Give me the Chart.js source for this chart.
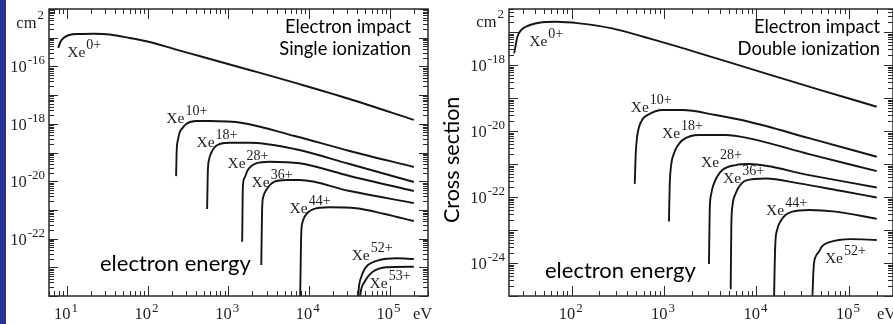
<!DOCTYPE html>
<html>
<head>
<meta charset="utf-8">
<script src="https://cdn.jsdelivr.net/npm/chart.js@4.4.1/dist/chart.umd.min.js"></script>
<style>
html, body { margin: 0; padding: 0; background: #fff; width: 893px; height: 324px; overflow: hidden; position: relative; }
canvas { position: absolute; top: 0; }
#strip { position: absolute; left: 0; top: 0; width: 6px; height: 324px; background: #283593; }
#ylab { position: absolute; left: 387px; top: 148px; width: 126px; height: 24px; line-height: 24px; text-align: center;
        font: 21.5px Lato; color: #000; transform: rotate(-90deg); white-space: nowrap; }
</style>
</head>
<body>
<div id="strip"></div>
<canvas id="single" width="440" height="324" style="left:0"></canvas>
<canvas id="double" width="450" height="324" style="left:453px"></canvas>
<div id="ylab">Cross section</div>
<script>
// single ionization, [eV, cm^2]
const single_Xe0  = [[7.8,4.4e-16],[8.3,7.1e-16],[9.1,9.8e-16],[10.7,1.24e-15],[14.3,1.35e-15],[22,1.38e-15],[34,1.29e-15],[60,9.8e-16],[106,7.1e-16],[216,4.0e-16],[440,2.3e-16],[1840,7.5e-17],[7700,2.4e-17],[3.2e4,7.3e-18],[2e5,1.36e-18]];
const single_Xe10 = [[226,1.5e-20],[230,1.22e-19],[238,2.7e-19],[249,4.8e-19],[271,7.1e-19],[301,9.8e-19],[401,1.25e-18],[586,1.25e-18],[1500,1.07e-18],[6650,3.76e-19],[3.2e4,1.13e-19],[2e5,3.13e-20]];
const single_Xe18 = [[548,1.07e-21],[558,1.93e-20],[578,5.5e-20],[615,9.6e-20],[736,1.82e-19],[1040,2.19e-19],[1840,2.19e-19],[6650,1.32e-19],[3.2e4,3.97e-20],[2e5,9.4e-21]];
const single_Xe28 = [[1490,7.8e-23],[1520,6.4e-21],[1590,1.29e-20],[1750,2.45e-20],[2220,4.2e-20],[3250,4.78e-20],[7700,4.2e-20],[3.2e4,1.52e-20],[2e5,4.56e-21]];
const single_Xe36 = [[2570,1.2e-23],[2640,1.29e-21],[2740,3.05e-21],[2960,4.9e-21],[3750,9.6e-21],[5250,1.1e-20],[7700,1.1e-20],[3.2e4,4.56e-21],[2e5,1.74e-21]];
const single_Xe44 = [[7800,8e-25],[8050,1.57e-22],[8360,3.8e-22],[8850,5.8e-22],[9900,8.5e-22],[1.12e4,1.05e-21],[1.8e4,1.23e-21],[3.87e4,1.14e-21],[8.7e4,7.2e-22],[2e5,4.1e-22]];
const single_Xe52 = [[4.06e4,8e-25],[4.2e4,2.4e-24],[4.47e4,4.7e-24],[4.84e4,8.1e-24],[5.4e4,1.2e-23],[7.5e4,1.8e-23],[1.21e5,2.06e-23],[2e5,1.95e-23]];
const single_Xe53 = [[4.25e4,8e-25],[4.5e4,1.9e-24],[4.91e4,3.15e-24],[5.5e4,5e-24],[6.2e4,7e-24],[9.1e4,1.0e-23],[2e5,1.05e-23]];

// double ionization, right panel
const double_Xe0  = [[23.9,2.26e-18],[24.8,4.0e-18],[25.9,7.2e-18],[28.4,1.15e-17],[32,1.45e-17],[44.5,1.91e-17],[67.5,2.05e-17],[121,1.84e-17],[274,1.29e-17],[689,6.4e-18],[2390,2.31e-18],[1.06e4,6.4e-19],[4.74e4,1.81e-19],[2e5,5.45e-20]];
const double_Xe10 = [[482,2.5e-22],[494,2.1e-21],[511,6.6e-21],[537,1.35e-20],[586,2.3e-20],[660,3.05e-20],[960,4.33e-20],[1580,4.33e-20],[3620,3.05e-20],[8300,1.91e-20],[3.7e4,6.1e-21],[2e5,1.66e-21]];
const double_Xe18 = [[1130,1.8e-23],[1150,2.05e-22],[1190,8.7e-22],[1280,2.1e-21],[1420,3.77e-21],[1580,5.3e-21],[2390,7.56e-21],[4640,7.56e-21],[8300,6.0e-21],[3.7e4,2.0e-21],[2e5,6.1e-22]];
const double_Xe28 = [[3060,9.3e-25],[3120,4.0e-23],[3220,1.15e-22],[3470,2.6e-22],[3790,4.33e-22],[4270,6.6e-22],[5960,9.3e-22],[8300,1.0e-21],[3.7e4,4.6e-22],[2e5,1.94e-22]];
const double_Xe36 = [[5260,1.6e-25],[5340,1.26e-23],[5510,5.7e-23],[5960,1.29e-22],[6550,2.15e-22],[7640,3.16e-22],[1.26e4,3.64e-22],[2.88e4,2.6e-22],[7.8e4,1.57e-22],[2e5,9.7e-23]];
const double_Xe44 = [[1.55e4,9e-26],[1.57e4,6.1e-25],[1.6e4,3.95e-24],[1.67e4,1.0e-23],[1.83e4,1.87e-23],[2.03e4,2.75e-23],[2.44e4,3.6e-23],[3.7e4,4.04e-23],[7.2e4,3.6e-23],[2e5,2.18e-23]];
const double_Xe52 = [[4.03e4,9e-26],[4.11e4,4.3e-25],[4.19e4,9.8e-25],[4.4e4,1.63e-24],[4.74e4,2.2e-24],[5.14e4,3.27e-24],[6.34e4,4.4e-24],[7.8e4,5.0e-24],[1.04e5,5.3e-24],[2e5,5.0e-24]];

// charge state labels and where they sit (eV, cm^2)
const singleCharges = ['0+','10+','18+','28+','36+','44+','52+','53+'];
const singleTagAt = [[10.1,2.13e-16],[171,1.07e-18],[405,1.59e-19],[980,2.88e-20],[1950,6.4e-21],[5770,7.8e-22],[3.39e4,1.8e-23],[5.66e4,1.9e-24]];
const doubleCharges = ['0+','10+','18+','28+','36+','44+','52+'];
const doubleTagAt = [[34.8,3.77e-18],[436,3.85e-20],[951,6.14e-21],[2510,8.28e-22],[4350,2.65e-22],[1.27e4,2.85e-23],[5.5e4,1e-24]];

// axes
const singleXRange = [6, 3e5], singleYRange = [1e-24, 1e-14];
const doubleXRange = [21, 3e5], doubleYRange = [1e-25, 5e-17];
const singleXTicks = [1e1, 1e2, 1e3, 1e4, 1e5];
const singleYTicks = [1e-16, 1e-18, 1e-20, 1e-22];
const doubleXTicks = [1e2, 1e3, 1e4, 1e5];
const doubleYTicks = [1e-18, 1e-20, 1e-22, 1e-24];

const SERIF = '"Liberation Serif"';

function logTicks(scale) {
  const out = [];
  for (let d = Math.floor(Math.log10(scale.min)); d <= Math.ceil(Math.log10(scale.max)); d++) {
    for (let m = 1; m <= 9; m++) {
      const v = m * Math.pow(10, d);
      if (v >= scale.min * 0.999 && v <= scale.max * 1.001) out.push([v, m === 1]);
    }
  }
  return out;
}

// base text with a raised smaller part, e.g. 10^-16 or Xe^10+
function withSup(ctx, x, y, base, sup, bigPx, smallPx, rise, align) {
  ctx.font = bigPx + 'px ' + SERIF;
  const w1 = ctx.measureText(base).width;
  ctx.font = smallPx + 'px ' + SERIF;
  const w2 = ctx.measureText(sup).width;
  const total = w1 + w2 + 1;
  let x0 = x;
  if (align === 'right') x0 = x - total;
  if (align === 'center') x0 = x - total / 2;
  ctx.textAlign = 'left';
  ctx.font = bigPx + 'px ' + SERIF;
  ctx.fillText(base, x0, y);
  ctx.font = smallPx + 'px ' + SERIF;
  ctx.fillText(sup, x0 + w1 + 1, y - rise);
}

const axisBox = {
  id: 'axisBox',
  afterDatasetsDraw(chart, args, o) {
    const { ctx, chartArea: a, scales: { x, y } } = chart;
    ctx.save();
    ctx.strokeStyle = '#2a2a2a';
    ctx.lineWidth = 1;
    ctx.beginPath();
    logTicks(x).forEach(([v, major]) => {
      const p = Math.round(x.getPixelForValue(v)) + 0.5;
      const len = major ? 10 : 5;
      ctx.moveTo(p, a.bottom); ctx.lineTo(p, a.bottom - len);
      ctx.moveTo(p, a.top); ctx.lineTo(p, a.top + len);
    });
    logTicks(y).forEach(([v, major]) => {
      const p = Math.round(y.getPixelForValue(v)) + 0.5;
      const len = major ? 9 : 5;
      ctx.moveTo(a.left, p); ctx.lineTo(a.left + len, p);
      ctx.moveTo(a.right, p); ctx.lineTo(a.right - len, p);
    });
    ctx.stroke();
    ctx.lineWidth = 1.5;
    ctx.strokeRect(a.left, a.top, a.right - a.left, a.bottom - a.top);

    ctx.fillStyle = '#1e1e1e';
    ctx.textBaseline = 'alphabetic';
    // tick labels
    o.xTicks.forEach(v => {
      withSup(ctx, x.getPixelForValue(v) - 1, a.bottom + 23, '10', String(Math.round(Math.log10(v))), 16.5, 13, 7, 'center');
    });
    o.yTicks.forEach(v => {
      withSup(ctx, a.left - 4, y.getPixelForValue(v) + 6, '10', String(Math.round(Math.log10(v))), 16.5, 13, 8, 'right');
    });
    withSup(ctx, a.left - 5, a.top + o.unitDy, 'cm', '2', 16.5, 13, 9, 'right');
    ctx.font = '16.5px ' + SERIF;
    ctx.textAlign = 'left';
    ctx.fillText('eV', a.right - o.evDx, a.bottom + 23);

    // curve labels
    o.charges.forEach((c, i) => {
      const [e, s] = o.tagAt[i];
      withSup(ctx, x.getPixelForValue(e), y.getPixelForValue(s), 'Xe', c, 15.5, 14, 8, 'left');
    });

    // captions
    ctx.fillStyle = '#000';
    ctx.font = '18.4px Lato';
    ctx.textAlign = 'right';
    o.caption.forEach((t, i) => ctx.fillText(t, a.right - o.capDx, a.top + 24 + i * 22));
    ctx.font = '22px Lato';
    ctx.textAlign = 'left';
    ctx.fillText('electron energy', a.left + o.titleDx, a.bottom - o.titleDy);
    ctx.restore();
  }
};

function makeChart(id, curves, xr, yr, pad, extra) {
  return new Chart(document.getElementById(id), {
    type: 'line',
    data: {
      datasets: curves.map(c => ({
        data: c.map(([e, s]) => ({ x: e, y: s })),
        borderColor: '#151515',
        borderWidth: 1.9,
        pointRadius: 0,
        fill: false,
        cubicInterpolationMode: 'monotone'
      }))
    },
    options: {
      responsive: false,
      animation: false,
      devicePixelRatio: 1,
      layout: { padding: pad },
      scales: {
        x: { type: 'logarithmic', min: xr[0], max: xr[1], display: false },
        y: { type: 'logarithmic', min: yr[0], max: yr[1], display: false }
      },
      plugins: {
        legend: { display: false },
        tooltip: { enabled: false },
        axisBox: extra
      }
    },
    plugins: [axisBox]
  });
}

makeChart('single',
  [single_Xe0, single_Xe10, single_Xe18, single_Xe28, single_Xe36, single_Xe44, single_Xe52, single_Xe53],
  singleXRange, singleYRange,
  { left: 49, top: 9, right: 12, bottom: 28 },
  { xTicks: singleXTicks, yTicks: singleYTicks, charges: singleCharges, tagAt: singleTagAt,
    caption: ['Electron impact', 'Single ionization'], capDx: 17, unitDy: 19, evDx: 15, titleDx: 51, titleDy: 25 });

makeChart('double',
  [double_Xe0, double_Xe10, double_Xe18, double_Xe28, double_Xe36, double_Xe44, double_Xe52],
  doubleXRange, doubleYRange,
  { left: 56, top: 9, right: 10, bottom: 28 },
  { xTicks: doubleXTicks, yTicks: doubleYTicks, charges: doubleCharges, tagAt: doubleTagAt,
    caption: ['Electron impact', 'Double ionization'], capDx: 13, unitDy: 18, evDx: 16, titleDx: 36, titleDy: 18 });
</script>
</body>
</html>
